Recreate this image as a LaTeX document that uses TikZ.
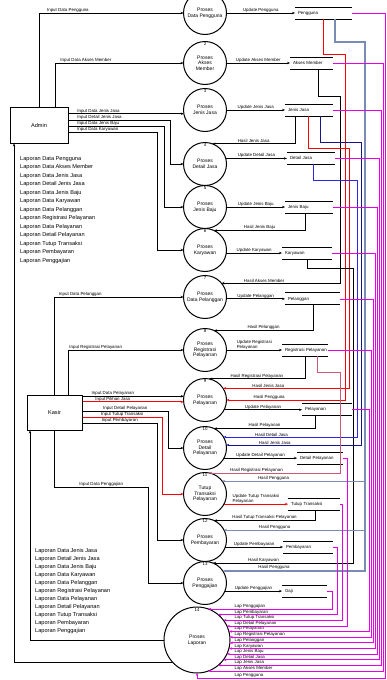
\documentclass[tikz,border=0pt]{standalone}
\usepackage{fontspec}
\setmainfont{Liberation Sans}
\usetikzlibrary{arrows.meta}
\definecolor{busblue}{RGB}{40,40,230}
\definecolor{busnavy}{RGB}{20,20,140}
\definecolor{bussteel}{RGB}{120,140,180}
\definecolor{busrose}{RGB}{200,90,120}
\definecolor{lapmag}{RGB}{230,0,230}
\begin{document}
\begin{tikzpicture}[x=1pt,y=-1pt,
  proc/.style={circle,draw,line width=1pt,minimum size=43pt,inner sep=0pt,outer sep=0pt,align=center,font=\fontsize{5}{5.6}\selectfont},
  ent/.style={rectangle,draw,line width=1pt,font=\fontsize{5.6}{6}\selectfont},
  store/.style={minimum height=12pt,text width=#1,inner sep=0pt,outer sep=0pt,align=left,font=\fontsize{4.4}{5}\selectfont,execute at begin node=\hspace*{3pt},append after command={(\tikzlastnode.north west) edge[line width=0.9pt] (\tikzlastnode.north east) (\tikzlastnode.south west) edge[line width=0.9pt] (\tikzlastnode.south east)}},
  flow/.style={line width=0.8pt,-{Stealth[length=3pt,width=2.4pt]}},
  lbl/.style={font=\fontsize{4.4}{4.8}\selectfont,inner sep=0.4pt,text=black},
  lap/.style={flow,lapmag},
  num/.style={font=\fontsize{4.4}{5}\selectfont,inner sep=1.2pt,anchor=north},
  list/.style={align=left,anchor=north west,inner sep=0pt}]
\useasboundingbox (0,0) rectangle (386,680);

\node[proc] (p1) at (205,13) {Proses\\Data Pengguna};
\node[proc,label={[num]90:2}] (p2) at (205,63) {Proses\\Akses\\Member};
\node[proc,label={[num]90:3}] (p3) at (205,110) {Proses\\Jenis Jasa};
\node[proc,label={[num]90:4}] (p4) at (205,164) {Proses\\Detail Jasa};
\node[proc,label={[num]90:5}] (p5) at (205,207) {Proses\\Jenis Baju};
\node[proc,label={[num]90:6}] (p6) at (205,250) {Proses\\Karyawan};
\node[proc,label={[num]90:7}] (p7) at (205,297) {Proses\\Data Pelanggan};
\node[proc,label={[num]90:8}] (p8) at (205,350) {Proses\\Registrasi\\Pelayanan};
\node[proc,label={[num]90:9}] (p9) at (205,400) {Proses\\Pelayanan};
\node[proc,label={[num]90:10}] (p10) at (205,448) {Proses\\Detail\\Pelayanan};
\node[proc,label={[num]90:11}] (p11) at (205,494) {Tutup\\Transaksi\\Pelayanan};
\node[proc,label={[num]90:12}] (p12) at (205,540) {Proses\\Pembayaran};
\node[proc,label={[num]90:13}] (p13) at (205,583) {Proses\\Penggajian};
\node[proc,minimum size=66pt,label={[num]90:14}] (p14) at (197,640) {Proses\\Laporan};

\node[ent,minimum width=58pt,minimum height=36pt] (admin) at (39,125) {Admin};
\node[ent,minimum width=55pt,minimum height=35pt] (kasir) at (54.5,412.5) {Kasir};

\node[store=57pt] (d1) at (323.5,13) {Pengguna};
\node[store=43pt] (d2) at (311.5,63) {Akses Member};
\node[store=48pt] (d3) at (309,110) {Jenis Jasa};
\node[store=48pt] (d4) at (311,158.4) {Detail Jasa};
\node[store=48pt] (d5) at (309,207) {Jenis Baju};
\node[store=50pt] (d6) at (307,253) {Karyawan};
\node[store=55pt] (d7) at (312.5,298.9) {Pelanggan};
\node[store=46pt] (d8) at (305,350) {Registrasi Pelayanan};
\node[store=50pt] (d9) at (327,409.8) {Pelayanan};
\node[store=46pt] (d10) at (320,458.1) {Detail Pelayanan};
\node[store=52pt] (d11) at (314,504.1) {Tutup Transaksi};
\node[store=50pt] (d12) at (308,547) {Pembayaran};
\node[store=45pt] (d13) at (304.5,591) {Gaji};

\node[list,font=\fontsize{5.6}{8.5}\selectfont] (ladmin) at (20,156) {Laporan Data Pengguna\\Laporan Data Akses Member\\Laporan Data Jenis Jasa\\Laporan Detail Jenis Jasa\\Laporan Data Jenis Baju\\Laporan Data Karyawan\\Laporan Data Pelanggan\\Laporan Registrasi Pelayanan\\Laporan Data Pelayanan\\Laporan Detail Pelayanan\\Laporan Tutup Transaksi\\Laporan Pembayaran\\Laporan Penggajian};
\node[list,font=\fontsize{5.6}{8}\selectfont] (lkasir) at (35,548) {Laporan Data Jenis Jasa\\Laporan Detail Jenis Jasa\\Laporan Data Jenis Baju\\Laporan Data Karyawan\\Laporan Data Pelanggan\\Laporan Registrasi Pelayanan\\Laporan Data Pelayanan\\Laporan Detail Pelayanan\\Laporan Tutup Transaksi\\Laporan Pembayaran\\Laporan Penggajian};

\draw[flow] (admin.north) |- node[lbl,pos=.6,above]{Input Data Pengguna} (p1.west);
\draw[flow] ([xshift=16pt]admin.north) |- node[lbl,pos=.62,above]{Input Data Akses Member} (p2.west);
\draw[flow] (admin.east |- p3.190) -- node[lbl,pos=.07,anchor=south west]{Input Data Jenis Jasa} (p3.190);
\draw[flow] (admin.east |- 0,120) -| node[lbl,pos=.04,anchor=south west]{Input Detail Jenis Jasa} (170,164) -- (p4.west);
\draw[flow] (admin.east |- 0,126) -| node[lbl,pos=.042,anchor=south west]{Input Data Jenis Baju} (164,207) -- (p5.west);
\draw[flow] (admin.east |- 0,132) -| node[lbl,pos=.045,anchor=south west]{Input Data Karyawan} (157,250) -- (p6.west);
\draw[flow] (p14.222) -| ([xshift=-25pt]admin.south);

\draw[flow] (kasir.north) |- node[lbl,pos=.6,above]{Input Data Pelanggan} (p7.west);
\draw[flow] ([xshift=13.5pt]kasir.north) |- node[lbl,pos=.62,above]{Input Registrasi Pelayanan} (p8.west);
\draw[flow] (kasir.east |- p9.170) -- node[lbl,pos=.3,above]{Input Data Pelayanan} (p9.170);
\draw[flow,red] (kasir.east |- p9.185) -- node[lbl,pos=.3,above]{Input Pilihan Jasa} (p9.185);
\draw[flow] (kasir.east |- 0,411) -| node[lbl,pos=.25,above]{Input Detail Pelayanan} (168,448) -- (p10.west);
\draw[flow,red] (kasir.east |- 0,417) -| node[lbl,pos=.25,above]{Input Tutup Transaksi} (162,494) -- (p11.west);
\draw[flow] (kasir.east |- 0,423) -| node[lbl,pos=.25,above]{Input Pembayaran} (157,540) -- (p12.west);
\draw[flow] (kasir.south) |- node[lbl,pos=.75,above]{Input Data Penggajian} (148,487) |- (p13.west);
\draw[flow] (p14.west) -| ([xshift=-24.5pt]kasir.south);

\draw[flow] (p1.east) -- node[lbl,above]{Update Pengguna} (p1.east -| d1.west);
\draw[flow] (p2.east) -- node[lbl,above]{Update Akses Member} (p2.east -| d2.west);
\draw[flow] (p3.east) -- node[lbl,above]{Update Jenis Jasa} (p3.east -| d3.west);
\draw[flow] (p4.15) -- node[lbl,above]{Update Detail Jasa} (p4.15 -| d4.west);
\draw[flow] (p5.east) -- node[lbl,above]{Update Jenis Baju} (p5.east -| d5.west);
\draw[flow] (p6.-8) -- node[lbl,above]{Update Karyawan} (p6.-8 -| d6.west);
\draw[flow] (p7.-5) -- node[lbl,above]{Update Pelanggan} (p7.-5 -| d7.west);
\draw[flow] (p8.east) -- node[lbl,above,align=left]{Update Registrasi\\Pelayanan} (p8.east -| d8.west);
\draw[flow] (p9.-27) -- node[lbl,above]{Update Pelayanan} (p9.-27 -| d9.west);
\draw[flow] (p10.-28) -- node[lbl,above]{Update Detail Pelayanan} (p10.-28 -| d10.west);
\draw[flow,red] (p11.-28) -- node[lbl,above,align=left]{Update Tutup Transaksi\\Pelayanan} (p11.-28 -| d11.west);
\draw[flow] (p12.-19) -- node[lbl,above]{Update Pembayaran} (p12.-19 -| d12.west);
\draw[flow] (p13.-22) -- node[lbl,above]{Update Penggajian} (p13.-22 -| d13.west);

\draw[flow] ([xshift=10pt]d3.south west) |- node[lbl,pos=.75,above]{Hasil Jenis Jasa} (p4.70);
\draw[flow] ([xshift=20pt]d5.south west) |- node[lbl,pos=.75,above]{Hasil Jenis Baju} (p6.65);
\draw[flow] ([xshift=28pt]d7.south west) |- node[lbl,pos=.75,above]{Hasil Pelanggan} (p8.65);
\draw[flow] ([xshift=23pt]d8.south west) |- node[lbl,pos=.75,above]{Hasil Registrasi Pelayanan} (p9.80);
\draw[flow] ([xshift=13pt]d9.south west) |- node[lbl,pos=.75,above]{Hasil Pelayanan} (p10.65);
\draw[flow] ([xshift=27pt]d11.south west) |- node[lbl,pos=.75,above]{Hasil Tutup Transaksi Pelayanan} (p12.65);

\coordinate (bsteel) at (365,42);
\draw[flow] ([xshift=28pt]d2.south west) |- (340,96) |- node[lbl,pos=.82,above]{Hasil Akses Member} (p7.40);
\draw[flow,red] (d1.south) |- (345,54) |- node[lbl,pos=.82,above]{Hasil Pengguna} (p9.east);
\draw[flow,red] ([xshift=23pt]d3.south west) |- (349,148) |- node[lbl,pos=.82,above]{Hasil Jenis Jasa} (p9.33);
\draw[flow] ([xshift=25pt]d6.south west) |- (353,268) |- node[lbl,pos=.82,above]{Hasil Karyawan} (p13.68);
\draw[flow,busblue] ([xshift=26pt]d4.south west) |- (357,180) |- node[lbl,pos=.82,above]{Hasil Detail Jasa} (p10.31);
\draw[flow,busnavy] ([xshift=35pt]d3.south west) |- (361,142) |- node[lbl,pos=.82,above]{Hasil Jenis Jasa} (p10.8);
\draw[flow,busrose] ([xshift=35pt]d8.south west) |- (340,372) |- node[lbl,pos=.82,above]{Hasil Registrasi Pelayanan} (p11.78);
\draw[flow,bussteel,line width=1.4pt] ([xshift=40pt]d1.south west) |- (bsteel) |- node[lbl,pos=.82,above]{Hasil Pengguna} (p13.34);
\draw[flow,bussteel] (bsteel |- p11.37) -- node[lbl,pos=.64,above]{Hasil Pengguna} (p11.37);
\draw[flow,bussteel] (bsteel |- p12.28) -- node[lbl,pos=.64,above]{Hasil Pengguna} (p12.28);

\foreach \d/\vx/\ang/\txt in {d13/332/70/Lap Penggajian, d12/337/50/Lap Pembayaran, d11/342/37/Lap Tutup Transaksi, d10/347/25/Lap Detail Pelayanan, d9/369/15/Lap Pelayanan, d8/371/5/Lap Registrasi Pelayanan, d7/373/-5/Lap Pelanggan, d6/375/-15/Lap Karyawan, d5/377/-25/Lap Jenis Baju, d4/379/-37/Lap Detail Jasa, d3/381/-50/Lap Jenis Jasa, d2/383/-70/Lap Akses Member}{
  \draw[lap] (\d.east) -| (\vx,0 |- p14.\ang) -- (p14.\ang);
  \node[lbl,anchor=south west] (l\d) at (234,0 |- p14.\ang) {\txt};
}
\draw[lap] (d1.east) -| (385,678) -| (p14.south);
\node[lbl,anchor=south west] (ld1) at (234,678) {Lap Pengguna};
\end{tikzpicture}
\end{document}
